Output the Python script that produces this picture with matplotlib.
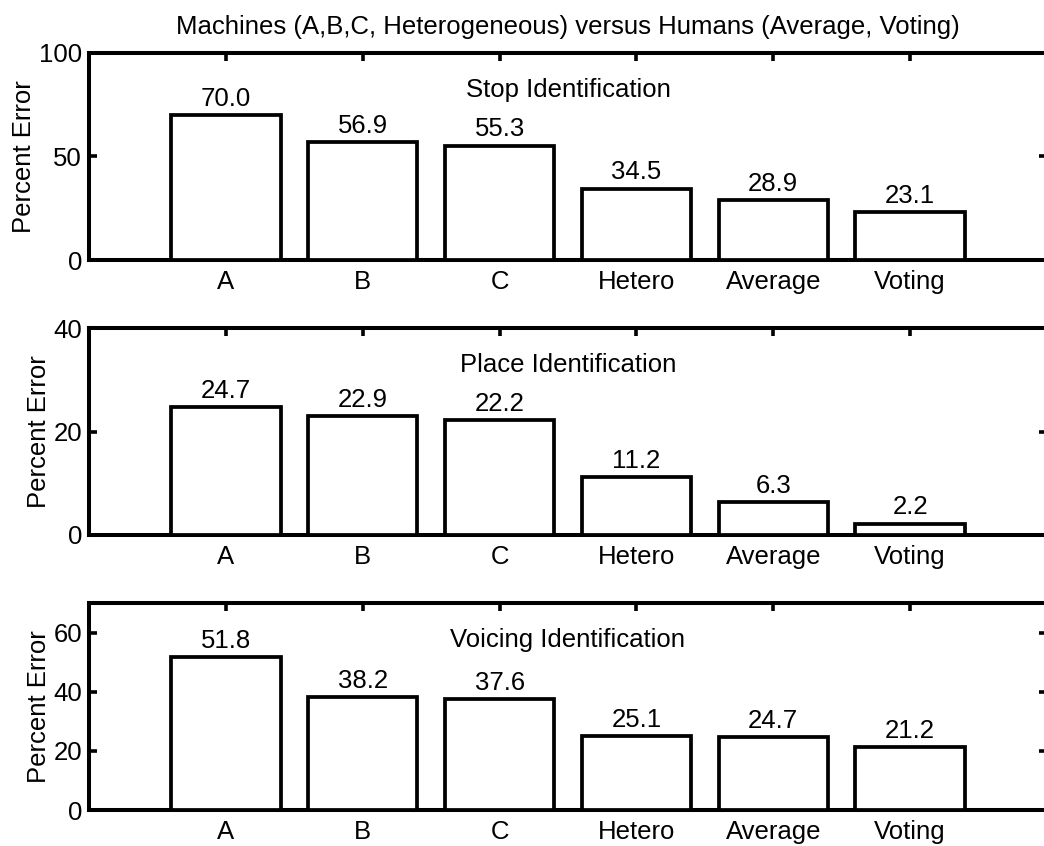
import matplotlib
matplotlib.use('Agg')
import matplotlib.pyplot as plt

categories = ['A', 'B', 'C', 'Hetero', 'Average', 'Voting']
stop_err = [70.0, 56.9, 55.3, 34.5, 28.9, 23.1]
place_err = [24.7, 22.9, 22.2, 11.2, 6.3, 2.2]
voicing_err = [51.8, 38.2, 37.6, 25.1, 24.7, 21.2]

panels = [
    ('Stop Identification', stop_err, 100, [0, 50, 100]),
    ('Place Identification', place_err, 40, [0, 20, 40]),
    ('Voicing Identification', voicing_err, 70, [0, 20, 40, 60]),
]

plt.rcParams['font.family'] = ['Liberation Sans', 'DejaVu Sans']
fs = 18.5

W, H = 1044, 846
fig = plt.figure(figsize=(W / 100, H / 100), dpi=100)

left, right = 89, 1047
tops = [53, 328, 603]
ax_h = 207

x = list(range(1, len(categories) + 1))

for (name, vals, ymax, yt), top in zip(panels, tops):
    ax = fig.add_axes([left / W, 1 - (top + ax_h) / H, (right - left) / W, ax_h / H])
    ax.bar(x, vals, width=0.8, color='white', edgecolor='black', linewidth=2.7, zorder=3)
    for xi, v in zip(x, vals):
        ax.annotate(f'{v:.1f}', (xi, v), xytext=(0, 3), textcoords='offset points',
                    ha='center', va='bottom', fontsize=fs)
    ax.text(0.5, 0.82, name, transform=ax.transAxes, ha='center', va='center', fontsize=fs)
    ax.set_xlim(0, 7)
    ax.set_ylim(0, ymax)
    ax.set_yticks(yt)
    ax.set_xticks(x)
    ax.set_xticklabels(categories)
    for s in ax.spines.values():
        s.set_linewidth(2.9)
    ax.tick_params(axis='y', direction='in', length=6, width=2.6, left=True, right=True,
                   labelsize=fs, pad=5)
    ax.tick_params(axis='x', direction='in', length=6, width=2.6, bottom=False, top=True,
                   labelsize=fs, pad=7)
    ax.set_ylabel('Percent Error', fontsize=fs, labelpad=2)
    if top == tops[0]:
        ax.set_title('Machines (A,B,C, Heterogeneous) versus Humans (Average, Voting)',
                     fontsize=fs, pad=14)

fig.savefig('out.png', dpi=100)
